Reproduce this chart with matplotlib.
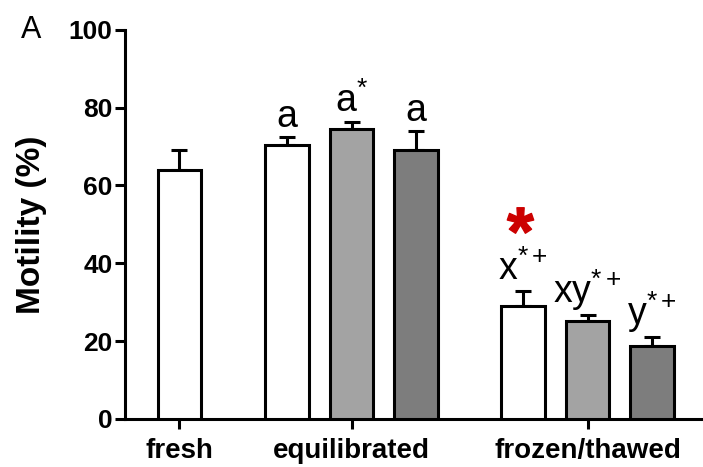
import matplotlib.pyplot as plt

plt.rcParams['font.family'] = ['Liberation Sans', 'DejaVu Sans']
plt.rcParams['mathtext.fontset'] = 'custom'
plt.rcParams['mathtext.rm'] = 'Liberation Sans'
plt.rcParams['mathtext.it'] = 'Liberation Sans'
plt.rcParams['mathtext.bf'] = 'Liberation Sans:bold'

# data
positions = [0, 1.67, 2.67, 3.67, 5.33, 6.33, 7.33]
motility = [64.0, 70.5, 74.5, 69.0, 29.0, 25.2, 18.8]
sem = [5.0, 2.0, 1.7, 5.0, 4.0, 1.5, 2.2]
colors = ['white', 'white', '#a3a3a3', '#7d7d7d', 'white', '#a3a3a3', '#7d7d7d']
labels = ['', 'a', r'a$^{*}$', 'a', r'x$^{*+}$', r'xy$^{*+}$', r'y$^{*+}$']
group_ticks = [0, 2.67, 6.33]
group_names = ['fresh', 'equilibrated', 'frozen/thawed']

fig = plt.figure(figsize=(7.03, 4.67), dpi=100)
ax = fig.add_axes([0.178, 0.103, 0.822, 0.833])

ax.bar(positions, motility, width=0.67, color=colors, edgecolor='black',
       linewidth=2.2, zorder=3)
ax.errorbar(positions, motility, yerr=[[0] * len(sem), sem], fmt='none',
            ecolor='black', elinewidth=2.2, capsize=6, capthick=2.2, zorder=2)

for x, y, e, lab in zip(positions, motility, sem, labels):
    if lab:
        ax.text(x, y + e + 0.6, lab, ha='center', va='bottom', fontsize=27)

# red asterisk (significance mark)
ax.plot([5.28], [51.2], marker=r'$\mathbf{*}$', markersize=19,
        color='#cc0000', linestyle='none')

ax.set_xlim(-0.84, 8.12)
ax.set_ylim(0, 100)
ax.set_yticks([0, 20, 40, 60, 80, 100])
ax.set_xticks(group_ticks)
ax.set_xticklabels(group_names)
for lbl in ax.get_yticklabels() + ax.get_xticklabels():
    lbl.set_fontweight('bold')
ax.tick_params(axis='y', labelsize=19, width=2.2, length=7, pad=2)
ax.tick_params(axis='x', labelsize=20, width=2.2, length=7, pad=7)
ax.set_ylabel('Motility (%)', fontsize=24, fontweight='bold', labelpad=16)

for side in ['top', 'right']:
    ax.spines[side].set_visible(False)
for side in ['left', 'bottom']:
    ax.spines[side].set_linewidth(2.2)

fig.text(0.044, 0.935, 'A', fontsize=22, ha='center', va='center')

fig.savefig('out.png', dpi=100)
